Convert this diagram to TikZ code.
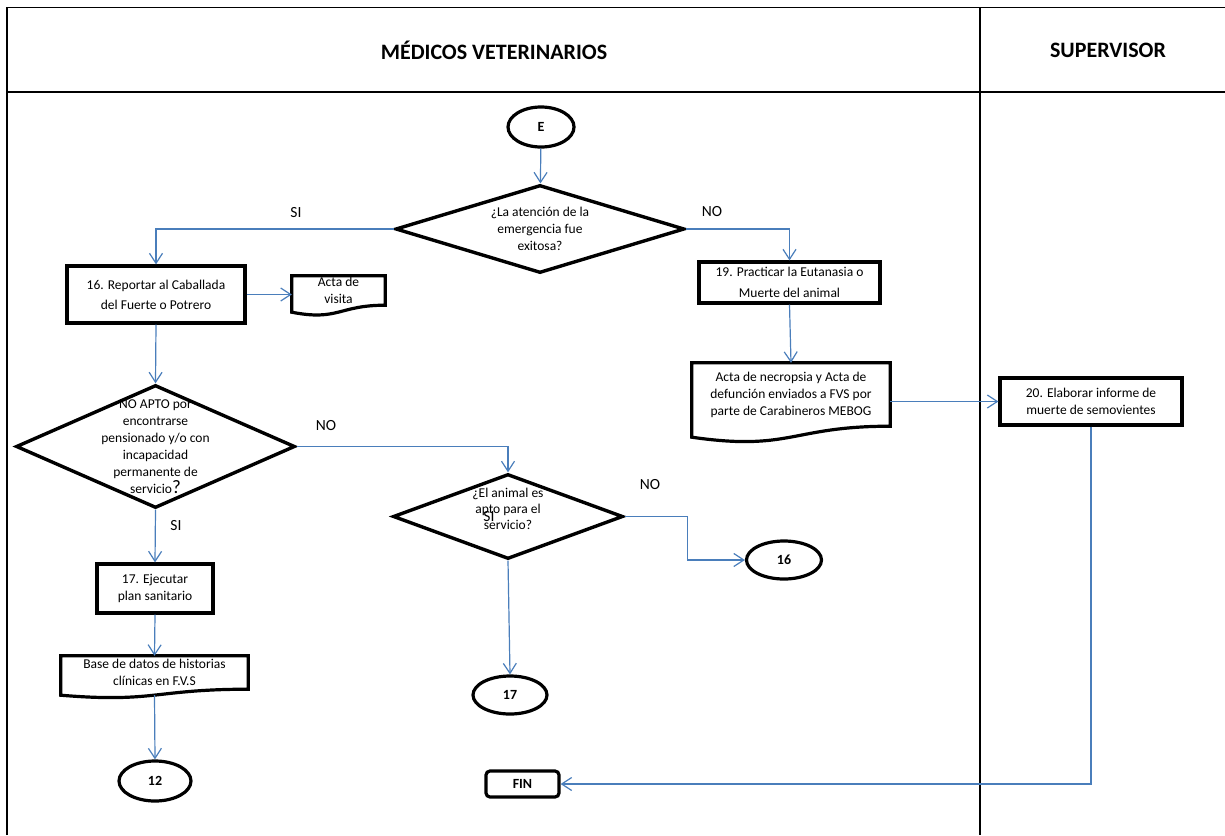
\documentclass[tikz,border=0pt]{standalone}
\usepackage{fontspec}
\setmainfont{Carlito}
\usepackage{tikz}
\usetikzlibrary{
    arrows.meta,
    shapes,
    calc
}

\definecolor{flowblue}{RGB}{74,126,187}
\newcommand{\bodyfont}{\fontsize{13.5}{17}\selectfont}
% document outline: node name, depth of the wave
\newcommand{\docshape}[2]{%
    \draw[docline] (#1.north) -- (#1.north east) -- (#1.south east)
    .. controls (#1.south) and ($(#1.south)+(0,2.3*#2)$) .. ($(#1.south west)+(0,#2)$)
    -- (#1.north west) -- cycle;}

\tikzset{
    taskbox/.style={draw, line width=3.2pt, align=center, font=\bodyfont},
    docbox/.style={align=center, inner sep=0pt, font=\bodyfont},
    docline/.style={line width=3.2pt, line join=miter},
    questbox/.style={diamond, draw, line width=3.4pt, inner sep=0pt},
    linkbox/.style={ellipse, draw, line width=3.2pt, minimum height=38pt, font=\bfseries\fontsize{14}{16}\selectfont},
    flowline/.style={flowblue, line width=1.2pt, -{Straight Barb[length=10pt,width=13pt]}},
    branch/.style={font=\fontsize{15.5}{18}\selectfont},
    lane/.style={line width=1.8pt}
}

\begin{document}
\begin{tikzpicture}[x=1pt, y=-1pt]
    \useasboundingbox (0,0) rectangle (1225,835);

    % lanes
    \draw[lane] (7,835) -- (7,7.5) -- (1225,7.5);
    \draw[lane] (7,92) -- (1225,92);
    \draw[lane, line width=1.5pt] (980,7.5) -- (980,835);
    \node[font=\bfseries\fontsize{22}{24}\selectfont] (hmv) at (494,50) {MÉDICOS VETERINARIOS};
    \node[font=\bfseries\fontsize{22}{24}\selectfont] (hsup) at (1108,50) {SUPERVISOR};

    \node[linkbox, minimum width=66pt, minimum height=40pt] (ne) at (541,127) {E};
    \node[questbox, minimum width=289pt, minimum height=88pt,
        label={[align=center, font=\bodyfont]center:{¿La atención de la\\emergencia fue\\exitosa?}}] (q1) at (540,229) {};
    \node[branch] (si1) at (296,213) {SI};
    \node[branch] (no1) at (712,212) {NO};

    \node[taskbox, minimum width=178pt, minimum height=57pt] (b16) at (156,294.5) {16. Reportar al Caballada\\[3pt]del Fuerte o Potrero};
    \node[docbox, minimum width=93pt, minimum height=29pt] (d16) at (338.5,290.5) {Acta de\\visita};
    \node[taskbox, minimum width=181pt, minimum height=41pt] (b19) at (789.5,282.5) {19. Practicar la Eutanasia o\\[4pt]Muerte del animal};
    \node[docbox, minimum width=198pt, minimum height=63pt] (d19) at (791,394.5) {Acta de necropsia y Acta de\\defunción enviados a FVS por\\parte de Carabineros MEBOG};
    \node[taskbox, minimum width=182pt, minimum height=47pt] (b20) at (1091,401.5) {20. Elaborar informe de\\muerte de semovientes};

    \node[questbox, minimum width=279pt, minimum height=123pt,
        label={[align=center, font=\bodyfont]center:{NO APTO por\\encontrarse\\pensionado y/o con\\incapacidad\\permanente de\\servicio{\fontsize{19}{17}\selectfont ?}}}] (q2) at (155.5,446.5) {};
    \node[branch] (no2) at (326,426) {NO};
    \node[branch] (si2) at (176,526) {SI};

    \node[questbox, minimum width=230pt, minimum height=85pt,
        label={[align=center, yshift=8pt, font=\fontsize{13.5}{16}\selectfont]center:{¿El animal es\\apto para el\\servicio?}}] (q3) at (508,516.5) {};
    \node[branch] (si3) at (489,517) {SI};
    \node[branch] (no3) at (650,485) {NO};
    \node[linkbox, minimum width=75pt] (n16) at (784,560) {16};
    \node[linkbox, minimum width=74pt] (n17) at (510,695) {17};

    \node[taskbox, minimum width=116pt, minimum height=49pt] (b17) at (155,588.5) {17. Ejecutar\\plan sanitario};
    \node[docbox, minimum width=187pt, minimum height=33pt] (d17) at (154.5,672.5) {Base de datos de historias\\clínicas en F.V.S};
    \node[linkbox, minimum width=72pt, minimum height=40pt] (n12) at (155,781) {12};
    \node[draw, line width=3.2pt, rounded corners=4pt, minimum width=73pt, minimum height=26pt,
        font=\bfseries\fontsize{14}{16}\selectfont] (fin) at (522.5,784) {FIN};

    \docshape{d16}{7}
    \docshape{d19}{11}
    \docshape{d17}{6}

    \draw[flowline] (ne) -- (q1);
    \draw[flowline] (q1.west) -| (b16.north);
    \draw[flowline] (q1.east) -| (b19.north);
    \draw[flowline] (b16.east) -- (b16.east -| d16.west);
    \draw[flowline] (b19.south) -- (d19.north);
    \draw[flowline] (d19.east |- b20.west) -- (b20.west);
    \draw[flowline] (b20.south) |- (fin.east);
    \draw[flowline] (b16.south) -- (q2.north);
    \draw[flowline] (q2.east) -| (q3.north);
    \draw[flowline] (q3.east) -- ++(63,0) |- (n16.west);
    \draw[flowline] (q3.south) -- (n17.north);
    \draw[flowline] (q2.south) -- (b17.north);
    \draw[flowline] (b17.south) -- (d17.north);
    \draw[flowline] (d17.south) ++(0,6) -- (n12.north);
\end{tikzpicture}
\end{document}
